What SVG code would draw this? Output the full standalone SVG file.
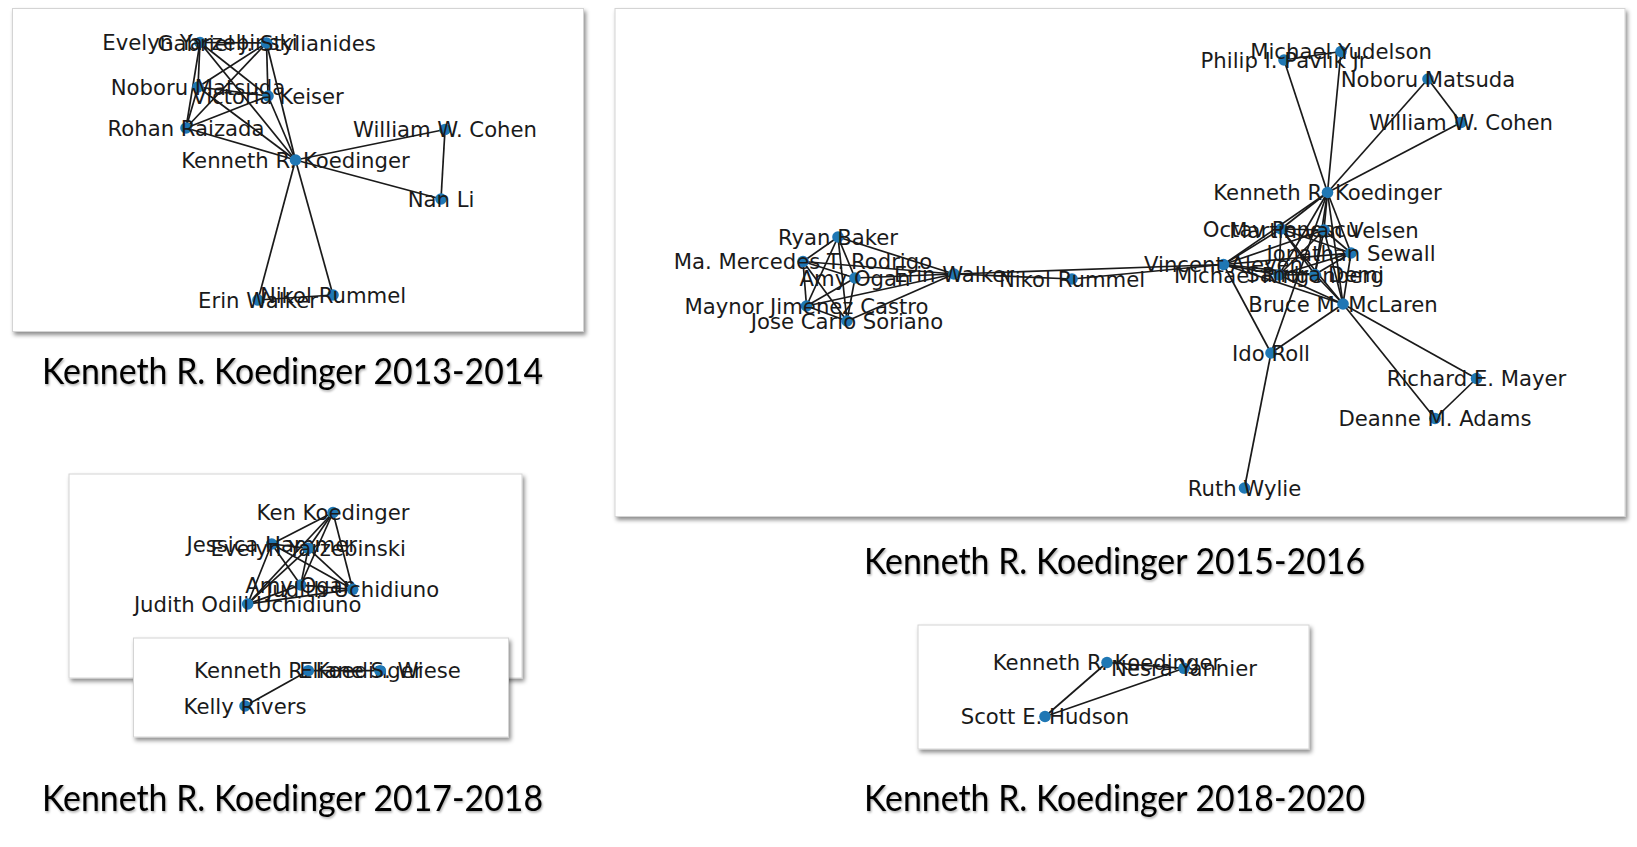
<svg xmlns="http://www.w3.org/2000/svg" width="1637" height="847" viewBox="0 0 1637 847">
<defs>
<filter id="sh" x="-5%" y="-5%" width="112%" height="118%"><feDropShadow dx="2" dy="3" stdDeviation="2" flood-color="#000" flood-opacity="0.45"/></filter>
<filter id="tsh" x="-2%" y="-10%" width="104%" height="130%"><feDropShadow dx="1" dy="1.5" stdDeviation="0.8" flood-color="#000" flood-opacity="0.35"/></filter>
<style>
.box{fill:#fff;stroke:#d4d4d4;stroke-width:1;filter:url(#sh)}
.cap{font-family:Lato,"Open Sans",sans-serif;font-size:37px;fill:#000;filter:url(#tsh)}
.e line{stroke:#1a1a1a;stroke-width:1.7}
.n circle{fill:#1f77b4}
.n text{font-family:"DejaVu Sans",sans-serif;font-size:21.2px;fill:#1a1a1a;text-anchor:middle}
</style>
</defs>
<rect width="1637" height="847" fill="#fff"/>
<g id="panels">
<rect id="p2013" class="box" x="12.5" y="8.5" width="571" height="323"/>
<rect id="p2015" class="box" x="615" y="8.5" width="1010" height="508"/>
<rect id="p2017a" class="box" x="69" y="474" width="453" height="204"/>
<rect id="p2017b" class="box" x="133.5" y="638" width="375" height="99"/>
<rect id="p2018" class="box" x="918" y="625" width="391" height="124"/>
</g>
<g id="captions">
<text class="cap" x="42" y="384" textLength="501" lengthAdjust="spacingAndGlyphs">Kenneth R. Koedinger 2013-2014</text>
<text class="cap" x="864" y="574" textLength="501" lengthAdjust="spacingAndGlyphs">Kenneth R. Koedinger 2015-2016</text>
<text class="cap" x="42" y="811" textLength="501" lengthAdjust="spacingAndGlyphs">Kenneth R. Koedinger 2017-2018</text>
<text class="cap" x="864" y="811" textLength="501" lengthAdjust="spacingAndGlyphs">Kenneth R. Koedinger 2018-2020</text>
</g>
<g id="connectors" class="e">
<!-- 2013-2014 -->
<line x1="200" y1="42.5" x2="266.5" y2="43"/><line x1="200" y1="42.5" x2="198" y2="87"/><line x1="200" y1="42.5" x2="268" y2="96"/><line x1="200" y1="42.5" x2="186" y2="128"/><line x1="200" y1="42.5" x2="295.5" y2="160"/>
<line x1="266.5" y1="43" x2="198" y2="87"/><line x1="266.5" y1="43" x2="268" y2="96"/><line x1="266.5" y1="43" x2="186" y2="128"/><line x1="266.5" y1="43" x2="295.5" y2="160"/>
<line x1="198" y1="87" x2="268" y2="96"/><line x1="198" y1="87" x2="186" y2="128"/><line x1="198" y1="87" x2="295.5" y2="160"/>
<line x1="268" y1="96" x2="186" y2="128"/><line x1="268" y1="96" x2="295.5" y2="160"/><line x1="186" y1="128" x2="295.5" y2="160"/>
<line x1="295.5" y1="160" x2="445" y2="129.5"/><line x1="295.5" y1="160" x2="441" y2="199"/><line x1="445" y1="129.5" x2="441" y2="199"/>
<line x1="295.5" y1="160" x2="258" y2="300"/><line x1="295.5" y1="160" x2="333" y2="295"/><line x1="258" y1="300" x2="333" y2="295"/>
<!-- 2015-2016 left -->
<line x1="838" y1="237" x2="803" y2="261.5"/><line x1="838" y1="237" x2="855" y2="278"/><line x1="838" y1="237" x2="806.5" y2="306"/><line x1="838" y1="237" x2="847" y2="321"/><line x1="838" y1="237" x2="954" y2="274"/>
<line x1="803" y1="261.5" x2="855" y2="278"/><line x1="803" y1="261.5" x2="806.5" y2="306"/><line x1="803" y1="261.5" x2="847" y2="321"/><line x1="803" y1="261.5" x2="954" y2="274"/>
<line x1="855" y1="278" x2="806.5" y2="306"/><line x1="855" y1="278" x2="847" y2="321"/><line x1="855" y1="278" x2="954" y2="274"/>
<line x1="806.5" y1="306" x2="847" y2="321"/><line x1="806.5" y1="306" x2="954" y2="274"/><line x1="847" y1="321" x2="954" y2="274"/>
<line x1="954" y1="274" x2="1072" y2="279"/><line x1="954" y1="274" x2="1223.5" y2="264.5"/><line x1="1072" y1="279" x2="1223.5" y2="264.5"/>
<!-- 2015-2016 right -->
<line x1="1327.5" y1="192.5" x2="1284" y2="60"/><line x1="1327.5" y1="192.5" x2="1341" y2="51.5"/><line x1="1284" y1="60" x2="1341" y2="51.5"/>
<line x1="1327.5" y1="192.5" x2="1428" y2="79"/><line x1="1327.5" y1="192.5" x2="1461" y2="122.5"/><line x1="1428" y1="79" x2="1461" y2="122.5"/>
<line x1="1327.5" y1="192.5" x2="1281" y2="229"/><line x1="1327.5" y1="192.5" x2="1324" y2="230"/><line x1="1327.5" y1="192.5" x2="1351" y2="253"/><line x1="1327.5" y1="192.5" x2="1223.5" y2="264.5"/><line x1="1327.5" y1="192.5" x2="1279" y2="275"/><line x1="1327.5" y1="192.5" x2="1315" y2="274.5"/><line x1="1327.5" y1="192.5" x2="1343" y2="304"/>
<line x1="1281" y1="229" x2="1324" y2="230"/><line x1="1281" y1="229" x2="1351" y2="253"/><line x1="1281" y1="229" x2="1223.5" y2="264.5"/><line x1="1281" y1="229" x2="1279" y2="275"/><line x1="1281" y1="229" x2="1315" y2="274.5"/><line x1="1281" y1="229" x2="1343" y2="304"/>
<line x1="1324" y1="230" x2="1351" y2="253"/><line x1="1324" y1="230" x2="1223.5" y2="264.5"/><line x1="1324" y1="230" x2="1279" y2="275"/><line x1="1324" y1="230" x2="1315" y2="274.5"/><line x1="1324" y1="230" x2="1343" y2="304"/>
<line x1="1351" y1="253" x2="1223.5" y2="264.5"/><line x1="1351" y1="253" x2="1279" y2="275"/><line x1="1351" y1="253" x2="1315" y2="274.5"/><line x1="1351" y1="253" x2="1343" y2="304"/>
<line x1="1223.5" y1="264.5" x2="1279" y2="275"/><line x1="1223.5" y1="264.5" x2="1315" y2="274.5"/><line x1="1223.5" y1="264.5" x2="1343" y2="304"/>
<line x1="1279" y1="275" x2="1315" y2="274.5"/><line x1="1279" y1="275" x2="1343" y2="304"/><line x1="1315" y1="274.5" x2="1343" y2="304"/>
<line x1="1327.5" y1="192.5" x2="1271" y2="353"/><line x1="1223.5" y1="264.5" x2="1271" y2="353"/><line x1="1343" y1="304" x2="1271" y2="353"/><line x1="1271" y1="353" x2="1244.5" y2="488"/>
<line x1="1343" y1="304" x2="1476.5" y2="378.5"/><line x1="1343" y1="304" x2="1435" y2="418.5"/><line x1="1476.5" y1="378.5" x2="1435" y2="418.5"/>
<!-- 2017-2018 top -->
<line x1="333" y1="512.5" x2="271.7" y2="544"/><line x1="333" y1="512.5" x2="308.3" y2="548.3"/><line x1="333" y1="512.5" x2="300.7" y2="585"/><line x1="333" y1="512.5" x2="352.7" y2="589.3"/><line x1="333" y1="512.5" x2="247.7" y2="604"/>
<line x1="271.7" y1="544" x2="308.3" y2="548.3"/><line x1="271.7" y1="544" x2="300.7" y2="585"/><line x1="271.7" y1="544" x2="352.7" y2="589.3"/><line x1="271.7" y1="544" x2="247.7" y2="604"/>
<line x1="308.3" y1="548.3" x2="300.7" y2="585"/><line x1="308.3" y1="548.3" x2="352.7" y2="589.3"/><line x1="308.3" y1="548.3" x2="247.7" y2="604"/>
<line x1="300.7" y1="585" x2="352.7" y2="589.3"/><line x1="300.7" y1="585" x2="247.7" y2="604"/><line x1="352.7" y1="589.3" x2="247.7" y2="604"/>
<!-- 2017-2018 bottom -->
<line x1="308.3" y1="670.7" x2="380" y2="670.7"/><line x1="308.3" y1="670.7" x2="245" y2="706"/>
<!-- 2018-2020 -->
<line x1="1107" y1="662.5" x2="1184" y2="668.3"/><line x1="1107" y1="662.5" x2="1045" y2="716.5"/><line x1="1045" y1="716.5" x2="1184" y2="668.3"/>
</g>
<g id="nodes2013" class="n">
<g id="n13-evelyn"><circle cx="200" cy="42.5" r="5.8"/><text x="200" y="50">Evelyn Yarzebinski</text></g>
<g id="n13-gabriel"><circle cx="266.5" cy="43" r="5.8"/><text x="266.5" y="50.5">Gabriel J. Stylianides</text></g>
<g id="n13-noboru"><circle cx="198" cy="87" r="5.8"/><text x="198" y="94.5">Noboru Matsuda</text></g>
<g id="n13-victoria"><circle cx="268" cy="96" r="5.8"/><text x="268" y="103.5">Victoria Keiser</text></g>
<g id="n13-rohan"><circle cx="186" cy="128" r="5.8"/><text x="186" y="135.5">Rohan Raizada</text></g>
<g id="n13-kenneth"><circle cx="295.5" cy="160" r="5.8"/><text x="295.5" y="167.5">Kenneth R. Koedinger</text></g>
<g id="n13-william"><circle cx="445" cy="129.5" r="5.8"/><text x="445" y="137">William W. Cohen</text></g>
<g id="n13-nanli"><circle cx="441" cy="199" r="5.8"/><text x="441" y="206.5">Nan Li</text></g>
<g id="n13-erin"><circle cx="258" cy="300" r="5.8"/><text x="258" y="307.5">Erin Walker</text></g>
<g id="n13-nikol"><circle cx="333" cy="295" r="5.8"/><text x="333" y="302.5">Nikol Rummel</text></g>
</g>
<g id="nodes2015" class="n">
<g id="n15-ryan"><circle cx="838" cy="237" r="5.8"/><text x="838" y="244.5">Ryan Baker</text></g>
<g id="n15-mercedes"><circle cx="803" cy="261.5" r="5.8"/><text x="803" y="269">Ma. Mercedes T. Rodrigo</text></g>
<g id="n15-amy"><circle cx="855" cy="278" r="5.8"/><text x="855" y="285.5">Amy Ogan</text></g>
<g id="n15-erin"><circle cx="954" cy="274" r="5.8"/><text x="954" y="281.5">Erin Walker</text></g>
<g id="n15-nikol"><circle cx="1072" cy="279" r="5.8"/><text x="1072" y="286.5">Nikol Rummel</text></g>
<g id="n15-maynor"><circle cx="806.5" cy="306" r="5.8"/><text x="806.5" y="313.5">Maynor Jimenez Castro</text></g>
<g id="n15-jose"><circle cx="847" cy="321" r="5.8"/><text x="847" y="328.5">Jose Carlo Soriano</text></g>
<g id="n15-philip"><circle cx="1284" cy="60" r="5.8"/><text x="1284" y="67.5">Philip I. Pavlik Jr</text></g>
<g id="n15-yudelson"><circle cx="1341" cy="51.5" r="5.8"/><text x="1341" y="59">Michael Yudelson</text></g>
<g id="n15-noboru"><circle cx="1428" cy="79" r="5.8"/><text x="1428" y="86.5">Noboru Matsuda</text></g>
<g id="n15-william"><circle cx="1461" cy="122.5" r="5.8"/><text x="1461" y="130">William W. Cohen</text></g>
<g id="n15-kenneth"><circle cx="1327.5" cy="192.5" r="5.8"/><text x="1327.5" y="200">Kenneth R. Koedinger</text></g>
<g id="n15-octav"><circle cx="1281" cy="229" r="5.8"/><text x="1281" y="236.5">Octav Popescu</text></g>
<g id="n15-martin"><circle cx="1324" cy="230" r="5.8"/><text x="1324" y="237.5">Martin van Velsen</text></g>
<g id="n15-jonathan"><circle cx="1351" cy="253" r="5.8"/><text x="1351" y="260.5">Jonathan Sewall</text></g>
<g id="n15-vincent"><circle cx="1223.5" cy="264.5" r="5.8"/><text x="1223.5" y="272">Vincent Aleven</text></g>
<g id="n15-ringenberg"><circle cx="1279" cy="275" r="5.8"/><text x="1279" y="282.5">Michael Ringenberg</text></g>
<g id="n15-sandra"><circle cx="1315" cy="274.5" r="5.8"/><text x="1315" y="282">Sandra Demi</text></g>
<g id="n15-bruce"><circle cx="1343" cy="304" r="5.8"/><text x="1343" y="311.5">Bruce M. McLaren</text></g>
<g id="n15-ido"><circle cx="1271" cy="353" r="5.8"/><text x="1271" y="360.5">Ido Roll</text></g>
<g id="n15-richard"><circle cx="1476.5" cy="378.5" r="5.8"/><text x="1476.5" y="386">Richard E. Mayer</text></g>
<g id="n15-deanne"><circle cx="1435" cy="418.5" r="5.8"/><text x="1435" y="426">Deanne M. Adams</text></g>
<g id="n15-ruth"><circle cx="1244.5" cy="488" r="5.8"/><text x="1244.5" y="495.5">Ruth Wylie</text></g>
</g>
<g id="nodes2017" class="n">
<g id="n17-ken"><circle cx="333" cy="512.5" r="5.8"/><text x="333" y="520">Ken Koedinger</text></g>
<g id="n17-jessica"><circle cx="271.7" cy="544" r="5.8"/><text x="271.7" y="551.5">Jessica Hammer</text></g>
<g id="n17-evelyn"><circle cx="308.3" cy="548.3" r="5.8"/><text x="308.3" y="555.8">Evelyn Yarzebinski</text></g>
<g id="n17-amy"><circle cx="300.7" cy="585" r="5.8"/><text x="300.7" y="592.5">Amy Ogan</text></g>
<g id="n17-judith"><circle cx="352.7" cy="589.3" r="5.8"/><text x="352.7" y="596.8">Judith Uchidiuno</text></g>
<g id="n17-judithodili"><circle cx="247.7" cy="604" r="5.8"/><text x="247.7" y="611.5">Judith Odili Uchidiuno</text></g>
<g id="n17-kenneth"><circle cx="308.3" cy="670.7" r="5.8"/><text x="308.3" y="678.2">Kenneth R. Koedinger</text></g>
<g id="n17-eliane"><circle cx="380" cy="670.7" r="5.8"/><text x="380" y="678.2">Eliane S. Wiese</text></g>
<g id="n17-kelly"><circle cx="245" cy="706" r="5.8"/><text x="245" y="713.5">Kelly Rivers</text></g>
</g>
<g id="nodes2018" class="n">
<g id="n18-kenneth"><circle cx="1107" cy="662.5" r="5.8"/><text x="1107" y="670">Kenneth R. Koedinger</text></g>
<g id="n18-nesra"><circle cx="1184" cy="668.3" r="5.8"/><text x="1184" y="675.8">Nesra Yannier</text></g>
<g id="n18-scott"><circle cx="1045" cy="716.5" r="5.8"/><text x="1045" y="724">Scott E. Hudson</text></g>
</g>
</svg>
